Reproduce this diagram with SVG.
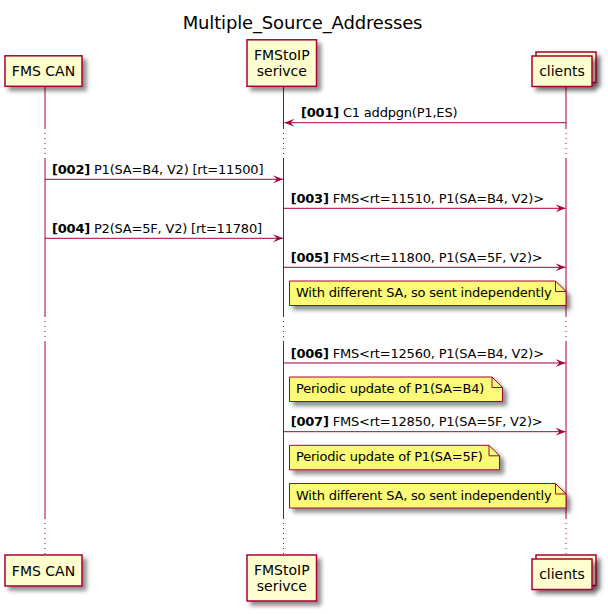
<svg xmlns="http://www.w3.org/2000/svg" width="608" height="614" viewBox="0 0 608 614">
<style>
text{font-family:"DejaVu Sans","Noto Sans",sans-serif;fill:#000}
.title{font-size:18px;letter-spacing:-0.15px}
.pt{font-size:14px}
.msg{font-size:13px;letter-spacing:-0.2px}
.b{font-weight:bold}
.box{fill:#FEFECE;stroke:#A80036;stroke-width:1.5}
.note{fill:#FBFB77;stroke:#A80036;stroke-width:1}
.fold{fill:none;stroke:#A80036;stroke-width:1}
.life{stroke:#A80036;stroke-width:1;fill:none}
.dot{stroke:#A80036;stroke-width:1;fill:none;stroke-dasharray:1,4}
.arr{stroke:#A80036;stroke-width:1;fill:none;marker-end:url(#ah)}
</style>
<defs>
<filter id="sh" x="-20%" y="-20%" width="150%" height="170%">
<feGaussianBlur in="SourceAlpha" stdDeviation="2" result="b"/>
<feOffset in="b" dx="4" dy="4" result="o"/>
<feComponentTransfer in="o" result="c"><feFuncA type="linear" slope="0.45"/></feComponentTransfer>
<feMerge><feMergeNode in="c"/><feMergeNode in="SourceGraphic"/></feMerge>
</filter>
<marker id="ah" markerUnits="userSpaceOnUse" markerWidth="12" markerHeight="10" refX="10" refY="4" orient="auto" viewBox="0 0 12 10">
<path d="M0,0 L10,4 L0,8 L4,4 Z" fill="#A80036"/>
</marker>
</defs>
<rect width="608" height="614" fill="#FFFFFF"/>
<text class="title" x="302.5" y="29" text-anchor="middle">Multiple_Source_Addresses</text>

<g id="lifelines">
<path class="life" d="M45,87 V128 M45,158 V316 M45,342 V518"/>
<path class="dot" d="M45,128 V158 M45,316 V342 M45,518 V555"/>
<path class="life" d="M283.5,87 V128 M283.5,158 V316 M283.5,342 V518"/>
<path class="dot" d="M283.5,128 V158 M283.5,316 V342 M283.5,518 V555"/>
<path class="life" d="M566,87 V128 M566,158 V316 M566,342 V518"/>
<path class="dot" d="M566,128 V158 M566,316 V342 M566,518 V555"/>
</g>

<g id="fms-can">
<rect class="box" x="5" y="55.8" width="77" height="30.5" filter="url(#sh)"/>
<text class="pt" x="43.5" y="76" text-anchor="middle">FMS CAN</text>
<rect class="box" x="5" y="555" width="77" height="31" filter="url(#sh)"/>
<text class="pt" x="43.5" y="576" text-anchor="middle">FMS CAN</text>
</g>

<g id="fmstoip">
<rect class="box" x="247" y="39.8" width="69.5" height="46.5" filter="url(#sh)"/>
<text class="pt" x="281.8" y="59.5" text-anchor="middle">FMStoIP</text>
<text class="pt" x="281.8" y="75.5" text-anchor="middle">serivce</text>
<rect class="box" x="247" y="555" width="69.5" height="46" filter="url(#sh)"/>
<text class="pt" x="281.8" y="574.5" text-anchor="middle">FMStoIP</text>
<text class="pt" x="281.8" y="590.5" text-anchor="middle">serivce</text>
</g>

<g id="clients">
<rect class="box" x="536" y="52" width="60" height="30.5" filter="url(#sh)"/>
<rect class="box" x="532" y="56" width="60" height="30.5" filter="url(#sh)"/>
<text class="pt" x="562" y="75.5" text-anchor="middle">clients</text>
<rect class="box" x="536" y="555" width="60" height="30.5" filter="url(#sh)"/>
<rect class="box" x="532" y="559" width="60" height="30.5" filter="url(#sh)"/>
<text class="pt" x="562" y="578.5" text-anchor="middle">clients</text>
</g>

<g id="connectors">
<line class="arr" x1="566" y1="122.7" x2="284.5" y2="122.7"/>
<text class="msg" x="301" y="117.3"><tspan class="b">[001]</tspan> C1 addpgn(P1,ES)</text>
<line class="arr" x1="45" y1="179.3" x2="283" y2="179.3"/>
<text class="msg" x="52" y="173.8"><tspan class="b">[002]</tspan> P1(SA=B4, V2) [rt=11500]</text>
<line class="arr" x1="283.5" y1="208.3" x2="565.5" y2="208.3"/>
<text class="msg" x="290.7" y="202.8"><tspan class="b">[003]</tspan> FMS&lt;rt=11510, P1(SA=B4, V2)&gt;</text>
<line class="arr" x1="45" y1="238.3" x2="283" y2="238.3"/>
<text class="msg" x="52" y="232.8"><tspan class="b">[004]</tspan> P2(SA=5F, V2) [rt=11780]</text>
<line class="arr" x1="283.5" y1="267.3" x2="565.5" y2="267.3"/>
<text class="msg" x="290.7" y="261.8"><tspan class="b">[005]</tspan> FMS&lt;rt=11800, P1(SA=5F, V2)&gt;</text>
<line class="arr" x1="283.5" y1="363" x2="565.5" y2="363"/>
<text class="msg" x="290.7" y="357.5"><tspan class="b">[006]</tspan> FMS&lt;rt=12560, P1(SA=B4, V2)&gt;</text>
<line class="arr" x1="283.5" y1="431.7" x2="565.5" y2="431.7"/>
<text class="msg" x="290.7" y="426.2"><tspan class="b">[007]</tspan> FMS&lt;rt=12850, P1(SA=5F, V2)&gt;</text>
</g>

<g id="note1">
<path class="note" d="M289.5,281 H555.5 L566,291.5 V305.5 H289.5 Z" filter="url(#sh)"/>
<path class="fold" d="M555.5,281 V291.5 H566"/>
<text class="msg" x="296" y="297">With different SA, so sent independently</text>
</g>
<g id="note2">
<path class="note" d="M289.5,377 H492 L502.5,387.5 V401.5 H289.5 Z" filter="url(#sh)"/>
<path class="fold" d="M492,377 V387.5 H502.5"/>
<text class="msg" x="296" y="393">Periodic update of P1(SA=B4)</text>
</g>
<g id="note3">
<path class="note" d="M289.5,445.3 H489 L499.5,455.8 V469.8 H289.5 Z" filter="url(#sh)"/>
<path class="fold" d="M489,445.3 V455.8 H499.5"/>
<text class="msg" x="296" y="461.3">Periodic update of P1(SA=5F)</text>
</g>
<g id="note4">
<path class="note" d="M289.5,483.5 H555.5 L566,494 V508 H289.5 Z" filter="url(#sh)"/>
<path class="fold" d="M555.5,483.5 V494 H566"/>
<text class="msg" x="296" y="499.5">With different SA, so sent independently</text>
</g>
</svg>
